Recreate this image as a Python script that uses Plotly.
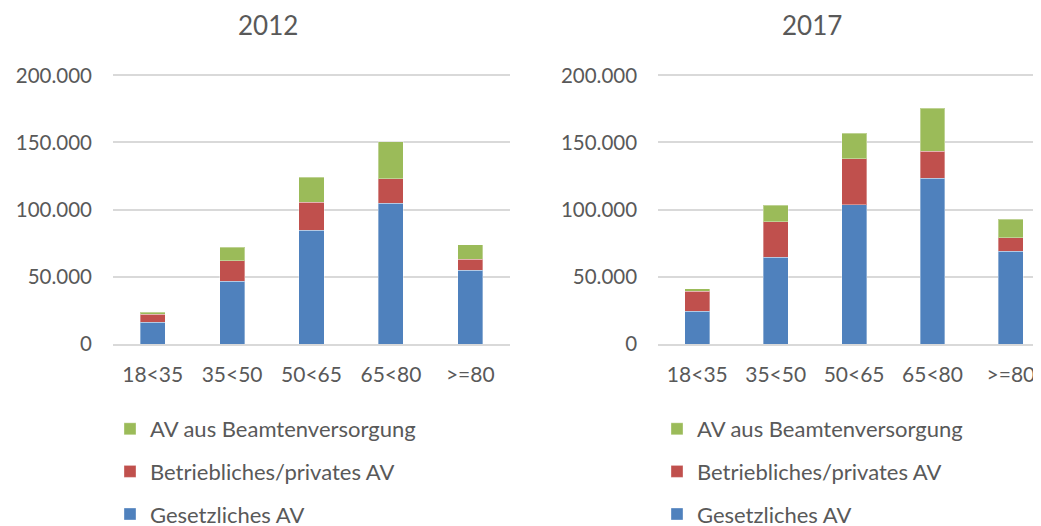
import plotly.graph_objects as go

categories = ["18<35", "35<50", "50<65", "65<80", ">=80"]

# 2012
gesetzlich_2012 = [16100, 46600, 84800, 104700, 54800]
betrieblich_2012 = [6000, 15400, 20600, 18300, 8400]
beamten_2012 = [1500, 10200, 18600, 27500, 10700]

# 2017
gesetzlich_2017 = [24500, 64500, 103700, 123300, 69000]
betrieblich_2017 = [14700, 26500, 34200, 20100, 10100]
beamten_2017 = [2000, 12200, 19100, 32000, 13900]

series_names = ["Gesetzliches AV", "Betriebliches/privates AV", "AV aus Beamtenversorgung"]
colors = ["#4F81BD", "#C0504D", "#9BBB59"]
ranks = [3, 2, 1]
years = ["2012", "2017"]

font = "Lato, Calibri, sans-serif"
txt = "#595959"

# the page body has an 8px margin, so the figure is laid out 8px up/left
W, H = 1033, 518

fig = go.Figure()

data = {
    "2012": [gesetzlich_2012, betrieblich_2012, beamten_2012],
    "2017": [gesetzlich_2017, betrieblich_2017, beamten_2017],
}

for i, year in enumerate(years):
    xa = "x" if i == 0 else "x2"
    ya = "y" if i == 0 else "y2"
    lg = "legend" if i == 0 else "legend2"
    for name, vals, col, rk in zip(series_names, data[year], colors, ranks):
        fig.add_trace(go.Bar(
            x=categories, y=vals, name=name,
            marker=dict(color=col, line=dict(color="rgba(255,255,255,0.35)", width=1)),
            xaxis=xa, yaxis=ya, legend=lg, legendgroup=year + name, legendrank=rk,
        ))

axis_y = dict(
    range=[0, 201500], tickvals=[0, 50000, 100000, 150000, 200000],
    tickformat=",.0f", showgrid=True, gridcolor="#D9D9D9", gridwidth=1.5,
    zeroline=False, showline=False, ticks="", ticklen=0, ticklabelstandoff=20,
    tickfont=dict(size=20.5, color=txt, family=font),
    domain=[1 - 336 / H, 1 - 65.3 / H], fixedrange=True,
)
axis_x = dict(
    showgrid=False, showline=True, linecolor="#D9D9D9", linewidth=1.5,
    ticks="", tickangle=0, ticklabelstandoff=11,
    tickfont=dict(size=21, color=txt, family=font),
)

leg = dict(
    xanchor="left", yanchor="top",
    traceorder="grouped", tracegroupgap=11,
    font=dict(size=22, color=txt, family=font), bgcolor="rgba(0,0,0,0)",
)

fig.update_layout(
    width=W, height=H,
    margin=dict(l=0, r=0, t=0, b=0, autoexpand=False),
    paper_bgcolor="white", plot_bgcolor="white",
    separators=",.",
    barmode="stack", bargap=0.683,
    font=dict(family=font, color=txt),
    xaxis=dict(axis_x, domain=[105 / W, 502 / W], anchor="y"),
    yaxis=dict(axis_y, anchor="x"),
    xaxis2=dict(axis_x, domain=[650.1 / W, 1.0], anchor="y2", range=[-0.5, 4.384]),
    yaxis2=dict(axis_y, anchor="x2"),
    legend=dict(leg, x=102 / W, y=1 - 400 / H),
    legend2=dict(leg, x=649 / W, y=1 - 400 / H),
    annotations=[
        dict(text="2012", x=260 / W, y=1 - 17 / H, xref="paper", yref="paper",
             xanchor="center", yanchor="middle",
             showarrow=False, font=dict(size=26, color=txt, family=font)),
        dict(text="2017", x=804 / W, y=1 - 17 / H, xref="paper", yref="paper",
             xanchor="center", yanchor="middle",
             showarrow=False, font=dict(size=26, color=txt, family=font)),
    ],
)

fig.write_html("out.html")
